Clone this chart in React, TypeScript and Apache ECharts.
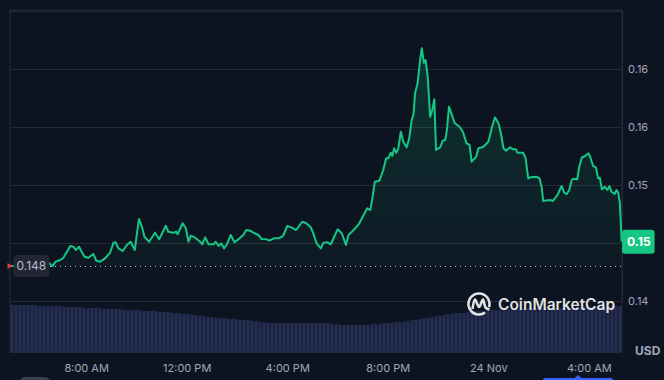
import React, { useEffect, useRef } from "react";
import * as echarts from "echarts";

// time in minutes since 23 Nov 00:00
const priceMinutes = [
  297, 321, 345, 369, 390, 398, 406, 417, 424, 433,
  441, 448, 454, 462, 468, 475, 484, 496, 503, 512,
  524, 536, 544, 549, 556, 566, 576, 585, 595, 600,
  605, 612, 618, 629, 643, 653, 669, 675, 687, 694,
  697, 709, 717, 723, 729, 739, 751, 756, 763, 771,
  783, 788, 795, 801, 808, 815, 824, 833, 845, 854,
  861, 870, 878, 890, 898, 910, 916, 927, 938, 946,
  950, 959, 970, 980, 995, 1004, 1015, 1021, 1029, 1039,
  1045, 1055, 1063, 1071, 1079, 1089, 1099, 1105, 1113, 1123,
  1131, 1141, 1150, 1157, 1162, 1168, 1179, 1188, 1195, 1200,
  1206, 1210, 1214, 1219, 1224, 1230, 1236, 1244, 1250, 1256,
  1260, 1264, 1270, 1276, 1280, 1285, 1289, 1294, 1300, 1305,
  1310, 1314, 1324, 1330, 1336, 1340, 1345, 1352, 1359, 1370,
  1378, 1387, 1394, 1399, 1410, 1415, 1427, 1439, 1449, 1455,
  1463, 1469, 1475, 1481, 1491, 1497, 1505, 1508, 1522, 1528,
  1534, 1540, 1554, 1561, 1566, 1570, 1586, 1593, 1604, 1610,
  1614, 1620, 1626, 1632, 1638, 1642, 1651, 1656, 1662, 1670,
  1678, 1682, 1689, 1696, 1701, 1705, 1710, 1717, 1723, 1728,
  1733, 1740, 1745, 1749, 1753, 1757,
];

const priceValues = [
  0.14802, 0.14802, 0.14797, 0.14802, 0.14828, 0.14799, 0.14839, 0.14853, 0.14871, 0.14925,
  0.14974, 0.14968, 0.1494, 0.14968, 0.14925, 0.14882, 0.14873, 0.14905, 0.14847, 0.14839,
  0.14868, 0.14916, 0.15003, 0.15006, 0.14954, 0.14931, 0.14983, 0.15011, 0.1494, 0.15084,
  0.15207, 0.1514, 0.15054, 0.15011, 0.15089, 0.15032, 0.15149, 0.15097, 0.15089, 0.15097,
  0.15075, 0.1517, 0.15127, 0.15011, 0.15063, 0.15046, 0.15011, 0.14989, 0.15049, 0.14989,
  0.14989, 0.15011, 0.14974, 0.14997, 0.14954, 0.14989, 0.15069, 0.15006, 0.1504, 0.15069,
  0.15112, 0.15106, 0.15089, 0.15069, 0.15034, 0.15032, 0.1502, 0.1504, 0.1504, 0.15054,
  0.15069, 0.15147, 0.15132, 0.15112, 0.15184, 0.1517, 0.15135, 0.15084, 0.14997, 0.14954,
  0.15003, 0.15006, 0.14989, 0.15054, 0.15118, 0.15084, 0.14983, 0.15069, 0.15097, 0.15135,
  0.1517, 0.15241, 0.15299, 0.15284, 0.15385, 0.15528, 0.15537, 0.15629, 0.1573, 0.1573,
  0.15778, 0.15752, 0.15816, 0.15778, 0.15816, 0.15959, 0.15873, 0.15825, 0.15902, 0.1606,
  0.16103, 0.1629, 0.16377, 0.16577, 0.16678, 0.16554, 0.16577, 0.1644, 0.16089, 0.16146,
  0.16239, 0.15802, 0.15825, 0.15882, 0.15888, 0.15974, 0.16175, 0.16103, 0.16032, 0.16002,
  0.15959, 0.15859, 0.15845, 0.15701, 0.15744, 0.15816, 0.1583, 0.15873, 0.16017, 0.16083,
  0.16032, 0.15946, 0.15816, 0.15796, 0.15825, 0.15808, 0.15808, 0.15778, 0.15778, 0.1573,
  0.15558, 0.15566, 0.15571, 0.15558, 0.15485, 0.15362, 0.15371, 0.15362, 0.15414, 0.15463,
  0.15491, 0.15434, 0.15422, 0.15457, 0.15543, 0.15554, 0.15549, 0.15658, 0.15735, 0.1575,
  0.15773, 0.15744, 0.15664, 0.15649, 0.15558, 0.15563, 0.15463, 0.15485, 0.15457, 0.15491,
  0.15442, 0.15422, 0.15457, 0.15434, 0.15342, 0.15011,
];

// 24h volume (millions USD, approximate)
const volumeValues = [
  4.7, 4.7, 4.7, 4.7, 4.7, 4.7, 4.7, 4.6, 4.6, 4.6,
  4.6, 4.6, 4.6, 4.5, 4.5, 4.5, 4.5, 4.5, 4.4, 4.4,
  4.4, 4.4, 4.4, 4.3, 4.3, 4.3, 4.3, 4.3, 4.2, 4.2,
  4.2, 4.2, 4.2, 4.1, 4.1, 4.1, 4.1, 4.0, 4.0, 4.0,
  3.9, 3.9, 3.9, 3.8, 3.8, 3.7, 3.7, 3.6, 3.6, 3.5,
  3.5, 3.4, 3.4, 3.4, 3.3, 3.3, 3.3, 3.2, 3.2, 3.2,
  3.1, 3.1, 3.0, 3.0, 2.9, 2.9, 2.9, 2.9, 2.9, 2.9,
  2.9, 2.9, 2.9, 2.9, 2.9, 2.9, 2.9, 2.9, 2.9, 2.9,
  2.8, 2.8, 2.7, 2.7, 2.7, 2.7, 2.7, 2.7, 2.7, 2.7,
  2.8, 2.8, 2.8, 2.9, 2.9, 2.9, 3.0, 3.0, 3.0, 3.1,
  3.2, 3.2, 3.3, 3.4, 3.4, 3.5, 3.6, 3.6, 3.7, 3.8,
  3.8, 3.9, 3.9, 3.9, 4.0, 4.0, 4.1, 4.1, 4.1, 4.2,
  4.2, 4.2, 4.2, 4.3, 4.3, 4.3, 4.3, 4.3, 4.3, 4.4,
  4.4, 4.4, 4.4, 4.4, 4.4, 4.4, 4.4, 4.4, 4.4, 4.4,
  4.4, 4.4, 4.4, 4.5, 4.5, 4.5, 4.5, 4.5, 4.5, 4.6,
  4.6, 4.6, 4.6,
];

const openPrice = 0.14802;
const openPriceLabel = "0.148";
const lastPriceLabel = "0.15";

const priceTicks = [0.145, 0.15, 0.155, 0.16, 0.165, 0.17];
const priceTickLabels = ["0.14", "", "0.15", "0.16", "0.16", ""];

const timeTicks = [480, 720, 960, 1200, 1440, 1680];
const timeTickLabels = ["8:00 AM", "12:00 PM", "4:00 PM", "8:00 PM", "24 Nov", "4:00 AM"];
const timeMin = 297;
const timeMax = 1758;

const BG = "#0d1421";
const GRID = "#262a37";
const LABEL = "#a1a7bb";
const GREEN = "#16c784";
const RED = "#ea3943";
const FONT = "Inter, 'Noto Sans', sans-serif";

export default function App() {
  const ref = useRef<HTMLDivElement>(null);

  useEffect(() => {
    if (!ref.current) return;
    const chart = echarts.init(ref.current, null, { renderer: "svg" });
    const n = Math.min(priceMinutes.length, priceValues.length);
    const priceData = [];
    for (let i = 0; i < n; i++) priceData.push([priceMinutes[i], priceValues[i]]);
    const last = priceData[n - 1];

    chart.setOption({
      animation: false,
      backgroundColor: BG,
      textStyle: { fontFamily: FONT },
      grid: [
        { left: 10, right: 42, top: 11, bottom: 79 },
        { left: 10, right: 42, top: 292, bottom: 28 },
        { left: 10, right: 42, top: 10, bottom: 28, show: true, borderColor: GRID, borderWidth: 1, backgroundColor: "transparent" },
      ],
      xAxis: [
        { gridIndex: 0, type: "value", min: timeMin, max: timeMax, show: false },
        { gridIndex: 1, type: "category", data: volumeValues.map((_, i) => String(i)), show: false },
        {
          gridIndex: 2,
          type: "value",
          min: timeMin,
          max: timeMax,
          axisLine: { show: true, lineStyle: { color: GRID } },
          axisTick: { show: false },
          splitLine: { show: false },
          axisLabel: {
            customValues: timeTicks,
            color: LABEL,
            fontSize: 11,
            margin: 10,
            fontFamily: FONT,
            formatter: (v: number) => {
              const i = timeTicks.indexOf(Math.round(v));
              return i >= 0 ? timeTickLabels[i] : "";
            },
          },
        },
      ],
      yAxis: [
        {
          gridIndex: 0,
          type: "value",
          position: "right",
          min: priceTicks[0],
          max: priceTicks[priceTicks.length - 1],
          interval: 0.005,
          axisLine: { show: true, lineStyle: { color: GRID } },
          axisTick: { show: false },
          splitLine: { show: true, lineStyle: { color: GRID, width: 1 } },
          axisLabel: {
            color: LABEL,
            fontSize: 11,
            margin: 6,
            fontFamily: FONT,
            formatter: (v: number) => {
              let best = -1;
              priceTicks.forEach((t, i) => {
                if (Math.abs(t - v) < 1e-6) best = i;
              });
              return best >= 0 ? priceTickLabels[best] : "";
            },
          },
        },
        { gridIndex: 1, type: "value", min: 0, max: 6, show: false },
        { gridIndex: 2, type: "value", min: 0, max: 1, show: false },
      ],
      series: [
        {
          type: "bar",
          xAxisIndex: 1,
          yAxisIndex: 1,
          data: volumeValues,
          barCategoryGap: "18%",
          itemStyle: { color: "#252e52" },
          silent: true,
          z: 1,
        },
        {
          type: "line",
          xAxisIndex: 0,
          yAxisIndex: 0,
          data: priceData,
          showSymbol: false,
          symbol: "none",
          itemStyle: { color: GREEN },
          lineStyle: { width: 2, join: "round", color: GREEN },
          areaStyle: {
            origin: openPrice,
            color: new echarts.graphic.LinearGradient(0, 0, 0, 1, [
              { offset: 0, color: "rgba(22,199,132,0.26)" },
              { offset: 1, color: "rgba(22,199,132,0.04)" },
            ]),
          },
          z: 3,
          markLine: {
            silent: true,
            symbol: "none",
            precision: 5,
            label: { show: false },
            lineStyle: { type: [1, 4], color: "#b5bac8", width: 1.2 },
            data: [{ yAxis: openPrice }],
          },
          markPoint: {
            silent: true,
            data: [
              {
                coord: [priceMinutes[0], openPrice],
                symbol: "triangle",
                symbolRotate: -90,
                symbolSize: [6, 5],
                itemStyle: { color: RED },
                label: {
                  show: true,
                  position: "right",
                  distance: 1,
                  formatter: openPriceLabel,
                  backgroundColor: "rgba(36,40,52,0.96)",
                  color: "#b8bccb",
                  fontSize: 12,
                  fontFamily: FONT,
                  padding: [5, 3, 5, 3],
                  borderRadius: 4,
                },
              },
              {
                coord: last,
                symbol: "rect",
                symbolSize: 1,
                itemStyle: { color: "rgba(0,0,0,0)" },
                label: {
                  show: true,
                  position: "right",
                  distance: 0,
                  formatter: lastPriceLabel,
                  backgroundColor: GREEN,
                  color: "#ffffff",
                  fontWeight: "bold",
                  fontSize: 12,
                  fontFamily: FONT,
                  padding: [6, 4, 6, 5],
                  borderRadius: 3,
                },
              },
            ],
          },
        },
      ],
      graphic: [
        {
          type: "arc",
          z: 50,
          shape: { cx: 479, cy: 304, r: 10.5, startAngle: 0.95, endAngle: 0.3 + Math.PI * 2 },
          style: { stroke: "rgba(255,255,255,0.88)", lineWidth: 2.6, fill: "none" },
        },
        {
          type: "polyline",
          z: 50,
          shape: {
            points: [[472.5, 309], [475, 299.5], [479, 307], [483, 299.5], [485.5, 307.5], [489.5, 309.5]],
            smooth: 0.35,
          },
          style: { stroke: "rgba(255,255,255,0.88)", lineWidth: 2.6, fill: "none" },
        },
        {
          type: "text",
          z: 50,
          x: 498,
          y: 304,
          style: {
            text: "CoinMarketCap",
            fill: "rgba(255,255,255,0.88)",
            font: "600 15.5px Inter, 'Noto Sans', sans-serif",
            verticalAlign: "middle",
          },
        },
        {
          type: "text",
          z: 50,
          x: 635,
          y: 350,
          style: {
            text: "USD",
            fill: LABEL,
            font: "bold 12px Inter, 'Noto Sans', sans-serif",
            verticalAlign: "middle",
          },
        },
        {
          type: "rect",
          z: 50,
          shape: { x: 20, y: 377, width: 30, height: 10, r: 5 },
          style: { fill: "#3a3f4d" },
        },
        {
          type: "rect",
          z: 50,
          shape: { x: 543, y: 378, width: 70, height: 10, r: 2 },
          style: { fill: "#3861fb" },
        },
        {
          type: "polygon",
          z: 50,
          shape: { points: [[574, 378.5], [578, 375], [582, 378.5]] },
          style: { fill: "#3861fb" },
        },
      ],
    });

    return () => chart.dispose();
  }, []);

  return (
    <div
      ref={ref}
      style={{ position: "fixed", left: 0, top: 0, width: 664, height: 380 }}
    />
  );
}
